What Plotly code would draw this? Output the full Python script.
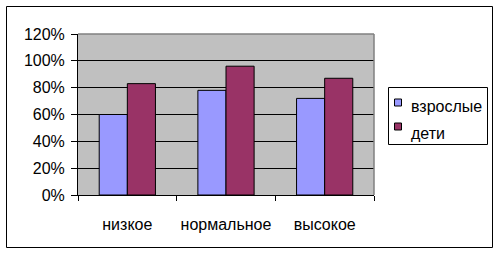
import plotly.graph_objects as go

categories = ["низкое", "нормальное", "высокое"]
adults = [60, 78, 72]
children = [83, 96, 87]
series_names = ["взрослые", "дети"]
series_colors = ["#9999FF", "#993366"]

W, H = 500, 254
L, R, T, B = 78, 126, 34, 59
pw, ph = W - L - R, H - T - B

def px_x(p):
    return (p - L) / pw

def px_y(p):
    return (H - B - p) / ph

FONT = "Liberation Sans, Arial, sans-serif"

fig = go.Figure()
for name, vals, col in zip(series_names, [adults, children], series_colors):
    fig.add_trace(go.Bar(x=categories, y=vals, name=name, showlegend=False,
                         marker=dict(color=col, line=dict(color="black", width=1))))

shapes = [
    dict(type="line", xref="paper", yref="paper", x0=0, x1=1, y0=1, y1=1,
         line=dict(color="#808080", width=1.5)),
    dict(type="line", xref="paper", yref="paper", x0=1, x1=1, y0=0, y1=1,
         line=dict(color="#808080", width=1.5)),
    dict(type="rect", xref="paper", yref="paper",
         x0=px_x(6.5), x1=px_x(492.5), y0=px_y(247.5), y1=px_y(6.5),
         line=dict(color="black", width=1), layer="below"),
    # legend box
    dict(type="rect", xref="paper", yref="paper",
         x0=px_x(388.5), x1=px_x(487.5), y0=px_y(144.5), y1=px_y(87.5),
         line=dict(color="black", width=1), fillcolor="white", layer="above"),
]
annotations = []
legend_rows = [(99, 106), (123, 133)]
for (name, col), (sq_top, txt_y) in zip(zip(series_names, series_colors), legend_rows):
    shapes.append(dict(type="rect", xref="paper", yref="paper",
                       x0=px_x(394.5), x1=px_x(401.5), y0=px_y(sq_top + 7), y1=px_y(sq_top),
                       line=dict(color="black", width=1), fillcolor=col, layer="above"))
    annotations.append(dict(xref="paper", yref="paper", x=px_x(409), y=px_y(txt_y),
                            xanchor="left", yanchor="middle", text=name, showarrow=False,
                            font=dict(family=FONT, size=16, color="black")))

fig.update_layout(
    width=W, height=H,
    margin=dict(l=L, r=R, t=T, b=B, pad=0),
    paper_bgcolor="white",
    plot_bgcolor="#C0C0C0",
    font=dict(family=FONT, size=16, color="black"),
    barmode="group",
    bargap=0.43,
    bargroupgap=0,
    showlegend=False,
    xaxis=dict(type="category", tickson="boundaries", ticks="outside", ticklen=5,
               tickcolor="black", showline=True, linecolor="black", linewidth=1,
               showgrid=False, ticklabelstandoff=15, tickangle=0, automargin=False,
               fixedrange=True),
    yaxis=dict(range=[0, 120], dtick=20, ticksuffix="%", ticks="outside", ticklen=6,
               tickcolor="black", showline=True, linecolor="black", linewidth=1,
               showgrid=True, gridcolor="black", gridwidth=1, zeroline=False,
               ticklabelstandoff=3, automargin=False, fixedrange=True),
    shapes=shapes,
    annotations=annotations,
)

fig.write_html("out.html")
